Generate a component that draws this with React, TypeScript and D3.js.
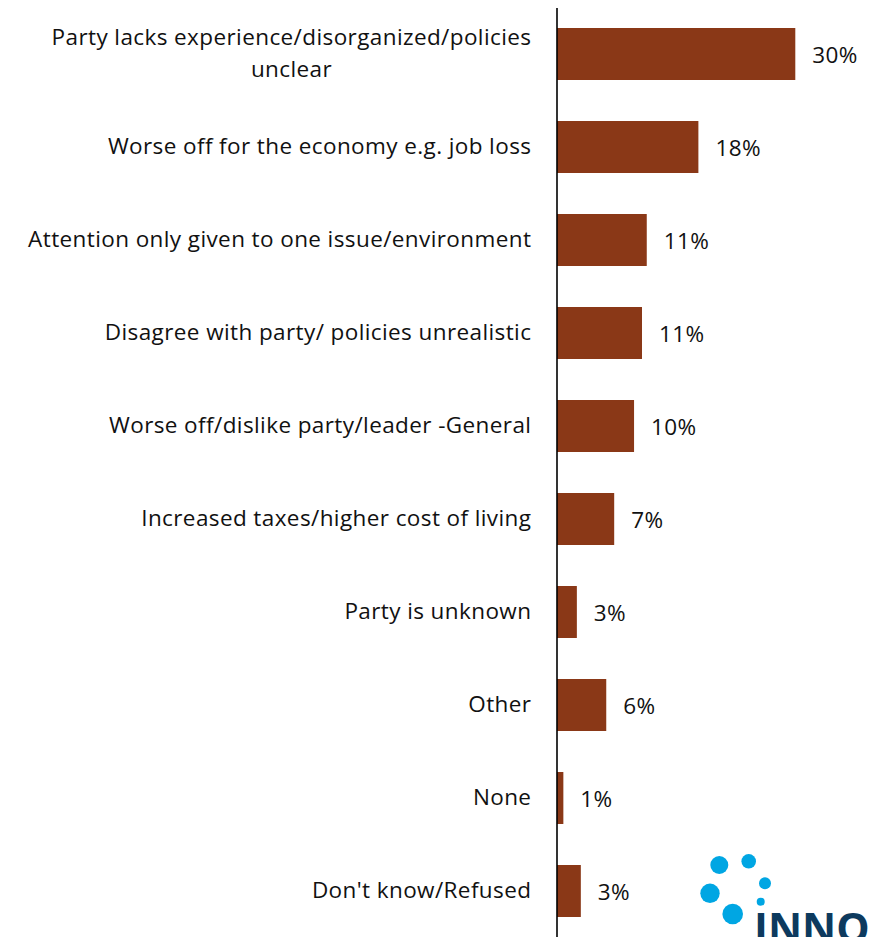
import React from "react";
import * as d3 from "d3";

const categories: string[][] = [
  ["Party lacks experience/disorganized/policies", "unclear"],
  ["Worse off for the economy e.g. job loss"],
  ["Attention only given to one issue/environment"],
  ["Disagree with party/ policies unrealistic"],
  ["Worse off/dislike party/leader -General"],
  ["Increased taxes/higher cost of living"],
  ["Party is unknown"],
  ["Other"],
  ["None"],
  ["Don't know/Refused"],
];

const values: number[] = [30, 17.8, 11.3, 10.7, 9.7, 7.2, 2.5, 6.2, 0.8, 3.0];

const W = 876;
const H = 937;
const FONT = "'Open Sans', sans-serif";
const FS = 22.5;
const LS = 0.4;

export default function App() {
  const keys = categories.map((c) => c.join(" "));
  const y = d3
    .scaleBand<string>()
    .domain(keys)
    .range([7.5, 937.5])
    .paddingInner(0.441)
    .paddingOuter(0.2205);
  const x = d3.scaleLinear().domain([0, 30]).range([557, 795.3]);
  const fmt = (v: number) => `${Math.round(v)}%`;

  return (
    <svg
      width={W}
      height={H}
      style={{ position: "absolute", left: 0, top: 0, display: "block", background: "#fff" }}
      fontFamily={FONT}
    >
      <rect width={W} height={H} fill="#fff" />
      {keys.map((k, i) => {
        const y0 = y(k)!;
        const cy = y0 + y.bandwidth() / 2;
        const lines = categories[i];
        const lh = 32;
        return (
          <g key={k}>
            <rect x={x(0)} y={y0} width={x(values[i]) - x(0)} height={y.bandwidth()} fill="#8A3817" />
            <text
              x={x(values[i]) + 17}
              y={cy + 8.7}
              fontSize={FS}
              letterSpacing={LS}
              fill="#111"
            >
              {fmt(values[i])}
            </text>
            {lines.map((ln, j) => (
              <text
                key={j}
                x={lines.length > 1 ? 291.5 : 531 + LS}
                y={cy + 7 + (j - (lines.length - 1) / 2) * lh}
                textAnchor={lines.length > 1 ? "middle" : "end"}
                fontSize={FS}
                letterSpacing={LS}
                fill="#111"
              >
                {ln}
              </text>
            ))}
          </g>
        );
      })}
      <line x1={557} x2={557} y1={8} y2={H} stroke="#000" strokeWidth={1.6} />
      {/* logo */}
      <g fill="#00A6E3">
        <circle cx={719.3} cy={865} r={9} />
        <circle cx={748.7} cy={861.3} r={7.3} />
        <circle cx={765} cy={883.3} r={6} />
        <circle cx={710} cy={893.3} r={9.7} />
        <circle cx={760.7} cy={901.7} r={4} />
        <circle cx={732.7} cy={914} r={10.3} />
      </g>
      <text x={754} y={943} fontSize={42} fontWeight={700} fill="#0D3A5E" fontFamily="'Open Sans', sans-serif">
        INNO
      </text>
    </svg>
  );
}
